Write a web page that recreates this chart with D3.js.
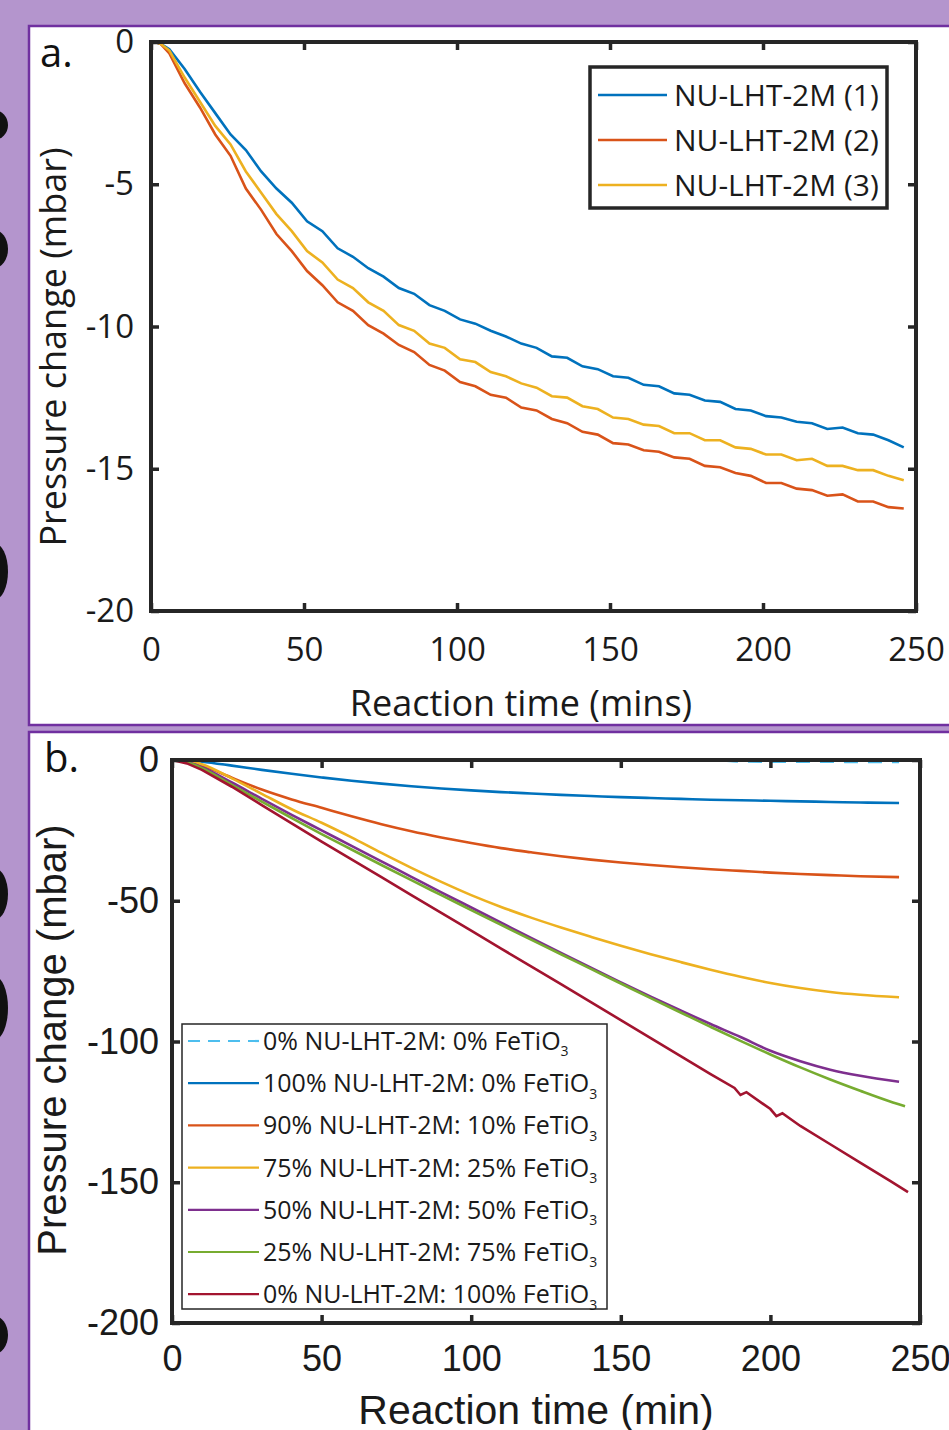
<!DOCTYPE html>
<html>
<head>
<meta charset="utf-8">
<script src="https://cdn.jsdelivr.net/npm/d3@7"></script>
<style>
  body { margin: 0; background: #b495cd; }
  svg { display: block; }
</style>
</head>
<body>
<svg id="chart" width="949" height="1430"></svg>
<script>
// ---------- panel a data (pressure change, mbar) ----------
const timeA = [0,2,5,10,15,20,25,30,35,40,45,50,55,60,65,70,75,80,85,90,95,100,105,110,115,120,
  125,130,135,140,145,150,155,160,165,170,175,180,185,190,195,200,205,210,215,220,225,230,235,240,245];
const runA1 = [0,-0.05,-0.25,-0.95,-1.75,-2.5,-3.25,-3.8,-4.55,-5.15,-5.65,-6.3,-6.65,-7.25,-7.55,-7.95,
  -8.25,-8.65,-8.85,-9.25,-9.45,-9.75,-9.9,-10.15,-10.35,-10.6,-10.75,-11.05,-11.1,-11.4,-11.5,-11.75,
  -11.8,-12.05,-12.1,-12.35,-12.4,-12.6,-12.65,-12.9,-12.95,-13.15,-13.2,-13.35,-13.4,-13.6,-13.55,
  -13.75,-13.8,-14.0,-14.25];
const runA2 = [0,-0.05,-0.4,-1.45,-2.3,-3.25,-4.0,-5.15,-5.9,-6.75,-7.35,-8.05,-8.55,-9.15,-9.45,-9.95,
  -10.25,-10.65,-10.9,-11.35,-11.55,-11.95,-12.1,-12.4,-12.5,-12.85,-12.95,-13.25,-13.4,-13.7,-13.8,
  -14.1,-14.15,-14.35,-14.4,-14.6,-14.65,-14.9,-14.95,-15.15,-15.25,-15.5,-15.5,-15.7,-15.75,-15.95,
  -15.9,-16.15,-16.15,-16.35,-16.4];
const runA3 = [0,-0.05,-0.3,-1.25,-2.1,-2.95,-3.6,-4.55,-5.3,-6.05,-6.65,-7.35,-7.75,-8.35,-8.65,-9.15,
  -9.45,-9.95,-10.15,-10.6,-10.75,-11.15,-11.25,-11.6,-11.75,-12.0,-12.15,-12.45,-12.5,-12.8,-12.9,
  -13.2,-13.25,-13.45,-13.5,-13.75,-13.75,-14.0,-14.0,-14.25,-14.3,-14.5,-14.5,-14.7,-14.65,-14.9,
  -14.9,-15.05,-15.05,-15.25,-15.4];
const namesA = ["NU-LHT-2M (1)", "NU-LHT-2M (2)", "NU-LHT-2M (3)"];
const colorsA = ["#0072bd", "#d95319", "#edb120"];

// ---------- panel b data ----------
const timeB = [0,5,10,20,30,40,50,60,70,80,90,100,110,120,130,140,150,160,170,180,190,200,210,220,230,243];
const mixBlank = [0,0,0,0,0,0,0,0,0,0,0,0,0,0,0,0,0,0,0,0,-0.5,-0.6,-0.6,-0.6,-0.7,-0.7];
const mix100 = [0,-0.1,-0.6,-2,-3.5,-4.9,-6.2,-7.4,-8.4,-9.3,-10.1,-10.8,-11.4,-11.9,-12.4,-12.8,-13.2,
  -13.5,-13.8,-14.1,-14.3,-14.5,-14.7,-14.9,-15.1,-15.3];
const mix90 = [0,-0.5,-2,-6.3,-10.5,-14,-17,-20,-22.8,-25.3,-27.5,-29.5,-31.3,-32.8,-34.2,-35.4,-36.4,
  -37.3,-38.1,-38.8,-39.4,-40,-40.5,-40.9,-41.3,-41.6];
const mix75 = [0,-0.2,-1.5,-6.5,-12,-17.5,-22.3,-27.5,-33,-38.3,-43.3,-48,-52.2,-56,-59.5,-62.8,-66,
  -69,-71.8,-74.5,-77,-79.2,-81,-82.4,-83.4,-84.3];
const mix50 = [0,-0.7,-2.6,-8,-13.8,-19.5,-25,-30.5,-36,-41.5,-47,-52.4,-57.8,-63.2,-68.5,-73.8,-79,
  -84.1,-89,-93.8,-98.4,-103.3,-107,-110,-112.2,-114.3];
const timeB25 = [0,5,10,20,30,40,50,60,70,80,90,100,110,120,130,140,150,160,170,180,190,200,210,220,230,240,245];
const mix25 = [0,-0.8,-2.9,-8.8,-14.8,-20.6,-26.3,-31.8,-37.3,-42.7,-48,-53.3,-58.6,-63.8,-69,-74.2,
  -79.4,-84.6,-89.7,-94.8,-99.8,-104.6,-109.2,-113.5,-117.5,-121.3,-123];
const timeB0 = [0,5,10,20,30,40,50,60,70,80,90,100,110,120,130,140,150,160,170,180,188,190,192,200,202,204,
  210,220,230,240,246];
const mix0 = [0,-1.2,-3.5,-9.5,-16,-22.5,-29,-35.3,-41.6,-48,-54.3,-60.6,-67,-73.3,-79.6,-86,-92.4,-98.8,
  -105.2,-111.6,-116.5,-119,-118,-124,-126.5,-125.5,-130,-136.5,-143,-149.5,-153.5];
const labelsB = ["0% NU-LHT-2M: 0% FeTiO", "100% NU-LHT-2M: 0% FeTiO", "90% NU-LHT-2M: 10% FeTiO",
  "75% NU-LHT-2M: 25% FeTiO", "50% NU-LHT-2M: 50% FeTiO", "25% NU-LHT-2M: 75% FeTiO",
  "0% NU-LHT-2M: 100% FeTiO"];
const colorsB = ["#4dbeee", "#0072bd", "#d95319", "#edb120", "#7e2f8e", "#77ac30", "#a2142f"];

const ticksX = [0, 50, 100, 150, 200, 250];
const ticksYA = [-20, -15, -10, -5, 0];
const ticksYB = [-200, -150, -100, -50, 0];

// cut-off glyph pieces of the slide text at the left edge: [top, bottom]
const edgeBits = [[110, 140], [230, 268], [543, 600], [868, 920], [976, 1040], [1316, 1354]];

const svg = d3.select("#chart");
const ink = "#262626";
const fontA = "'Open Sans', 'Noto Sans', sans-serif";
const fontB = "'Liberation Sans', Arial, sans-serif";
const plain = d => String(d);

// panel boxes
svg.append("rect").attr("x", 0).attr("y", 0).attr("width", 949).attr("height", 1430).attr("fill", "#b495cd");
svg.selectAll(".edge").data(edgeBits).join("ellipse").attr("class", "edge")
  .attr("cx", -6).attr("cy", d => (d[0] + d[1]) / 2).attr("rx", 14).attr("ry", d => (d[1] - d[0]) / 2)
  .attr("fill", "#111");
svg.append("rect").attr("x", 29).attr("y", 26).attr("width", 940).attr("height", 699)
  .attr("fill", "white").attr("stroke", "#7030a0").attr("stroke-width", 2.5);
svg.append("rect").attr("x", 29).attr("y", 732).attr("width", 940).attr("height", 720)
  .attr("fill", "white").attr("stroke", "#7030a0").attr("stroke-width", 2.5);

function styleAxis(g, font, size) {
  g.select(".domain").remove();
  g.selectAll(".tick line").attr("stroke", ink).attr("stroke-width", 3.5);
  g.selectAll(".tick text").attr("fill", "#1a1a1a").style("font-family", font).style("font-size", size + "px");
}

function drawAxes(x, y, yTicks, font, size, padX, padY) {
  const [x0, x1] = x.range();
  const [y0, y1] = y.range();
  svg.append("g").attr("transform", `translate(0,${y0})`)
    .call(d3.axisBottom(x).tickValues(ticksX).tickFormat(plain).tickSizeInner(-8).tickSizeOuter(0).tickPadding(padX))
    .call(g => styleAxis(g, font, size));
  svg.append("g").attr("transform", `translate(0,${y1})`)
    .call(d3.axisTop(x).tickValues(ticksX).tickSizeInner(-8).tickSizeOuter(0).tickFormat(""))
    .call(g => styleAxis(g, font, size));
  svg.append("g").attr("transform", `translate(${x0},0)`)
    .call(d3.axisLeft(y).tickValues(yTicks).tickFormat(plain).tickSizeInner(-8).tickSizeOuter(0).tickPadding(padY))
    .call(g => styleAxis(g, font, size));
  svg.append("g").attr("transform", `translate(${x1},0)`)
    .call(d3.axisRight(y).tickValues(yTicks).tickSizeInner(-8).tickSizeOuter(0).tickFormat(""))
    .call(g => styleAxis(g, font, size));
  svg.append("rect").attr("x", x0).attr("y", y1).attr("width", x1 - x0).attr("height", y0 - y1)
    .attr("fill", "none").attr("stroke", ink).attr("stroke-width", 4);
}

// ================= panel a =================
const xA = d3.scaleLinear().domain([0, 250]).range([151, 916]);
const yA = d3.scaleLinear().domain([-20, 0]).range([611, 42]);
const lineA = d3.line().x(d => xA(d[0])).y(d => yA(d[1]));

[runA1, runA2, runA3].forEach((vals, i) => {
  const pts = timeA.map((t, k) => [t + 1, vals[k]]);
  svg.append("path").datum(pts).attr("d", lineA)
    .attr("fill", "none").attr("stroke", colorsA[i]).attr("stroke-width", 2.6);
});

drawAxes(xA, yA, ticksYA, fontA, 33, 27, 17);

// legend a
const legA = svg.append("g");
legA.append("rect").attr("x", 590).attr("y", 67).attr("width", 297).attr("height", 141)
  .attr("fill", "white").attr("stroke", ink).attr("stroke-width", 3.5);
namesA.forEach((n, i) => {
  const yy = 95 + i * 45;
  legA.append("line").attr("x1", 598).attr("x2", 667).attr("y1", yy).attr("y2", yy)
    .attr("stroke", colorsA[i]).attr("stroke-width", 2.6);
  legA.append("text").attr("x", 674).attr("y", yy).attr("dy", "0.35em").text(n)
    .style("font-family", fontA).style("font-size", "30px").attr("fill", "#1a1a1a");
});

svg.append("text").attr("x", 40).attr("y", 67).text("a.")
  .style("font-family", fontA).style("font-size", "40px").attr("fill", "#111");
svg.append("text").attr("transform", "translate(66,347) rotate(-90)").attr("text-anchor", "middle")
  .text("Pressure change (mbar)").style("font-family", fontA).style("font-size", "36px").attr("fill", "#1a1a1a");
svg.append("text").attr("x", 521).attr("y", 716).attr("text-anchor", "middle")
  .text("Reaction time (mins)").style("font-family", fontA).style("font-size", "36px").attr("fill", "#1a1a1a");

// ================= panel b =================
const xB = d3.scaleLinear().domain([0, 250]).range([172, 920]);
const yB = d3.scaleLinear().domain([-200, 0]).range([1323, 760]);
const lineB = d3.line().x(d => xB(d[0])).y(d => yB(d[1])).curve(d3.curveMonotoneX);
const lineB0 = d3.line().x(d => xB(d[0])).y(d => yB(d[1]));

const seriesB = [
  [timeB, mixBlank], [timeB, mix100], [timeB, mix90], [timeB, mix75],
  [timeB, mix50], [timeB25, mix25], [timeB0, mix0]
];
seriesB.forEach(([ts, vals], i) => {
  const pts = ts.map((t, k) => [t, vals[k]]);
  const p = svg.append("path").datum(pts).attr("d", i === 6 ? lineB0 : lineB)
    .attr("fill", "none").attr("stroke", colorsB[i]).attr("stroke-width", 2.6);
  if (i === 0) p.attr("stroke-dasharray", "14,10");
});

drawAxes(xB, yB, ticksYB, fontB, 36, 22, 13);

// legend b
const legB = svg.append("g");
legB.append("rect").attr("x", 182).attr("y", 1024).attr("width", 425).attr("height", 285)
  .attr("fill", "white").attr("stroke", ink).attr("stroke-width", 1.5);
labelsB.forEach((n, i) => {
  const yy = 1041 + i * 42.2;
  const ln = legB.append("line").attr("x1", 188).attr("x2", 259).attr("y1", yy).attr("y2", yy)
    .attr("stroke", colorsB[i]).attr("stroke-width", 2.2);
  if (i === 0) ln.attr("stroke-dasharray", "12,8");
  const t = legB.append("text").attr("x", 263).attr("y", yy).attr("dy", "0.36em")
    .style("font-family", fontA).style("font-size", "25px").attr("fill", "#1a1a1a");
  t.append("tspan").text(n);
  t.append("tspan").attr("dy", "0.45em").style("font-size", "14px").text("3");
});

svg.append("text").attr("x", 44).attr("y", 772).text("b.")
  .style("font-family", fontA).style("font-size", "40px").attr("fill", "#111");
svg.append("text").attr("transform", "translate(66,1040) rotate(-90)").attr("text-anchor", "middle")
  .text("Pressure change (mbar)").style("font-family", fontB).style("font-size", "40px").attr("fill", "#1a1a1a");
svg.append("text").attr("x", 536).attr("y", 1424).attr("text-anchor", "middle")
  .text("Reaction time (min)").style("font-family", fontB).style("font-size", "41px").attr("fill", "#1a1a1a");
</script>
</body>
</html>
